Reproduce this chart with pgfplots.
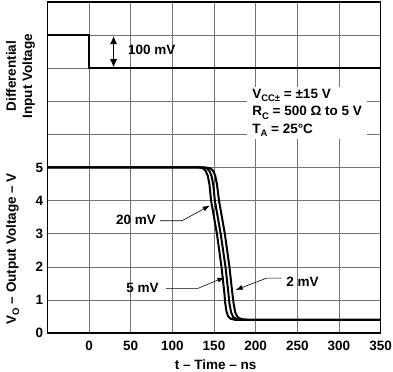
\documentclass[border=0pt]{standalone}
\usepackage{pgfplots}
\pgfplotsset{compat=1.18}
\usepackage{fontspec}
\setmainfont{Liberation Sans}
\usetikzlibrary{arrows.meta}
\newcommand\sub[1]{\raisebox{-0.45ex}{\fontsize{9.5bp}{9.5bp}\selectfont #1}}
\begin{document}
\fontsize{13.5bp}{15bp}\selectfont\bfseries
\begin{tikzpicture}
\useasboundingbox (-47.4bp,-39bp) rectangle (345.6bp,333bp);
\begin{axis}[at={(0,0)}, anchor=south west, scale only axis,
  width=333.2bp, height=331bp,
  xmin=-50, xmax=350, ymin=0, ymax=10,
  xtick={0,50,...,350}, ytick={0,1,...,10},
  yticklabels={0,1,2,3,4,5,{},{},{},{},{}},
  grid=major, major grid style={black!55, line width=0.6bp},
  major tick length=0pt,
  axis line style={line width=1.2bp},
  clip=false,
  /pgf/number format/assume math mode=true,
  xticklabel style={yshift=-3.5bp},
  yticklabel style={xshift=0.5bp},
]
% differential input
\addplot[black, line width=2bp] coordinates {(-50,9) (0,9) (0,8) (350,8)};
% 20 mV
\addplot[black, line width=2bp] coordinates {(-50,5) (132,5) (137,4.97) (140,4.9) (142.5,4.75) (144.5,4.5) (146.5,4) (153.5,3) (159,2) (162.5,1.2) (163.5,0.9) (165,0.65) (167,0.5) (170,0.43) (175,0.4) (350,0.4)};
% 5 mV
\addplot[black, line width=2bp] coordinates {(-50,5) (136,5) (141.5,4.97) (144.5,4.9) (147,4.75) (149,4.5) (151,4) (158,3) (163.8,2) (167.3,1.2) (168.5,0.9) (170.5,0.63) (173,0.48) (177,0.42) (182,0.4) (350,0.4)};
% 2 mV
\addplot[black, line width=2bp] coordinates {(-50,5) (140,5) (146,4.97) (149,4.9) (151.5,4.75) (153.5,4.5) (156,4) (163,3) (168.5,2) (172,1.2) (173.5,0.9) (175.5,0.62) (178.5,0.47) (183,0.42) (190,0.4) (350,0.4)};
% 100 mV annotation
\draw[{Latex[length=8bp,width=7bp]}-{Latex[length=8bp,width=7bp]}, line width=0.8bp] (axis cs:29.4,8.97) -- (axis cs:29.4,8.03);
\node[anchor=west, inner sep=0pt] at (axis cs:46.8,8.55) {100 mV};
% conditions
\node[fill=white, align=left, anchor=west, inner xsep=5bp, inner ysep=2.5bp,
  font=\fontsize{13.5bp}{17.5bp}\selectfont\bfseries] at (axis cs:189.7,6.65)
  {V\sub{CC±} = ±15 V\\R\sub{C} = 500 Ω to 5 V\\T\sub{A} = 25°C};
% curve labels
\node at (axis cs:56.4,3.42) {20 mV};
\draw[line width=0.6bp, -{Latex[length=7bp,width=5bp]}] (axis cs:85.2,3.39) -- (axis cs:111.6,3.39) -- (axis cs:145,3.85);
\node at (axis cs:64.2,1.36) {5 mV};
\draw[line width=0.6bp, -{Latex[length=7bp,width=5bp]}] (axis cs:92.4,1.35) -- (axis cs:130.9,1.35) -- (axis cs:162.5,1.68);
\node at (axis cs:256.3,1.56) {2 mV};
\draw[line width=0.6bp, -{Latex[length=7bp,width=5bp]}] (axis cs:231.3,1.66) -- (axis cs:213.3,1.66) -- (axis cs:176,1.3);
% axis labels
\node[rotate=90, anchor=base] at (axis cs:-87.7,7.76) {Differential};
\node[rotate=90, anchor=base] at (axis cs:-68.4,7.76) {Input Voltage};
\node[rotate=90, anchor=base] at (axis cs:-87.7,2.55) {V\sub{O} – Output Voltage – V};
\node[anchor=base] at (axis cs:152,-1.09) {t – Time – ns};
\end{axis}
\end{tikzpicture}
\end{document}
